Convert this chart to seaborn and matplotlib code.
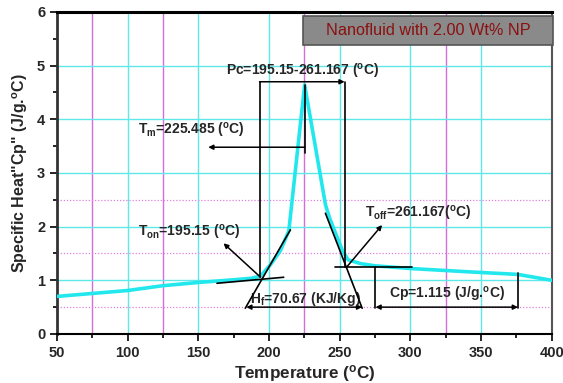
import matplotlib
matplotlib.use("Agg")
import matplotlib.pyplot as plt
import seaborn as sns
import pandas as pd
from matplotlib.patches import FancyBboxPatch

# ---- data ----
temperature = [50, 100, 125, 150, 175, 188, 194, 201, 208, 214, 225.2, 240, 243, 252, 256, 265, 275, 300, 340, 376, 400]
specific_heat = [0.70, 0.81, 0.90, 0.96, 1.01, 1.04, 1.08, 1.29, 1.55, 1.92, 4.64, 2.40, 2.15, 1.55, 1.38, 1.31, 1.27, 1.22, 1.16, 1.11, 1.00]

legend_text = "Nanofluid with 2.00 Wt% NP"
x_ticks = [50, 100, 150, 200, 250, 300, 350, 400]
y_ticks = [0, 1, 2, 3, 4, 5, 6]

# annotation geometry (data units)
pc_left, pc_right, pc_top = 193.3, 253.5, 4.70
onset_pt = (193.9, 1.06)
offset_pt = (254.7, 1.24)
peak_pt = (225.2, 4.64)
tm_arrow_y, tm_arrow_x_end, tm_line_bottom = 3.48, 157, 3.37
base_left = [(163.2, 0.945), (210.4, 1.057)]
lead_tangent = [(183.2, 0.48), (215.1, 1.94)]
trail_tangent = [(239.9, 2.25), (265.9, 0.48)]
base_right = [(247.0, 1.24), (301.3, 1.24)]
ton_arrow_tip = (167.8, 1.69)
toff_arrow_tip = (280.0, 2.03)
hf_y, hf_x0, hf_x1 = 0.50, 183.9, 265.9
cp_x0, cp_x1, cp_y, cp_top0, cp_top1 = 275.3, 376.1, 0.50, 1.24, 1.14

sns.set_style("white")
plt.rcParams['font.family'] = ['Liberation Sans', 'DejaVu Sans']
plt.rcParams['mathtext.fontset'] = 'custom'
plt.rcParams['mathtext.rm'] = 'Liberation Sans:bold'
plt.rcParams['mathtext.it'] = 'Liberation Sans:bold'
plt.rcParams['mathtext.bf'] = 'Liberation Sans:bold'
plt.rcParams['mathtext.default'] = 'rm'

fig = plt.figure(figsize=(5.63, 3.83), dpi=100)
ax = fig.add_axes([0.1012, 0.128, 0.8788, 0.8407])

# grid
for xv in [100, 150, 200, 250, 300, 350]:
    ax.axvline(xv, color='#5ee8e8', lw=1.0, zorder=0)
for xv in [75, 125, 225, 325]:
    ax.axvline(xv, color='#d070d8', lw=1.0, zorder=0)
for yv in [1, 2, 3, 4, 5]:
    ax.axhline(yv, color='#5ee8e8', lw=1.0, zorder=0)
for yv in [0.5, 1.5, 2.5]:
    ax.axhline(yv, color='#e080e0', lw=0.9, ls=(0, (1, 1.5)), zorder=0)

df = pd.DataFrame({"T": temperature, "Cp": specific_heat})
sns.lineplot(data=df, x="T", y="Cp", color='#22e8ee', lw=2.6, ax=ax, zorder=3)

k = dict(color='black', lw=1.2, zorder=4)
arr = dict(arrowstyle='-|>', color='black', lw=1.1, mutation_scale=7, shrinkA=0, shrinkB=0)
arr2 = dict(arrowstyle='<|-|>', color='black', lw=1.1, mutation_scale=7, shrinkA=0, shrinkB=0)
fs = 10

# Pc bracket
ax.plot([pc_left, pc_left], [pc_top, onset_pt[1]], **k)
ax.plot([pc_right, pc_right], [pc_top, offset_pt[1]], **k)
ax.annotate('', xy=(pc_right, pc_top), xytext=(pc_left, pc_top), arrowprops=arr, zorder=5)
ax.text(223.4, 4.9, "Pc=195.15-261.167 ($^{o}$C)", ha='center', va='center',
        fontsize=fs, fontweight='bold')

# Tm
ax.plot([peak_pt[0], peak_pt[0]], [peak_pt[1], tm_line_bottom], **k)
ax.annotate('', xy=(tm_arrow_x_end, tm_arrow_y), xytext=(peak_pt[0], tm_arrow_y), arrowprops=arr)
ax.text(107.4, 3.80, "T$_{m}$=225.485 ($^{o}$C)", ha='left', va='center', fontsize=fs, fontweight='bold')

# onset tangents
ax.plot(*zip(*base_left), **k)
ax.plot(*zip(*lead_tangent), **k)
ax.annotate('', xy=ton_arrow_tip, xytext=onset_pt, arrowprops=arr)
ax.text(107.6, 1.89, "T$_{on}$=195.15 ($^{o}$C)", ha='left', va='center', fontsize=fs, fontweight='bold')

# offset tangents
ax.plot(*zip(*trail_tangent), **k)
ax.plot(*zip(*base_right), **k)
ax.annotate('', xy=toff_arrow_tip, xytext=offset_pt, arrowprops=arr)
ax.text(268, 2.25, "T$_{off}$=261.167($^{o}$C)", ha='left', va='center', fontsize=fs, fontweight='bold')

# Hf
ax.annotate('', xy=(hf_x1, hf_y), xytext=(hf_x0, hf_y), arrowprops=arr2)
ax.text(225.5, 0.66, "H$_{f}$=70.67 (KJ/Kg)", ha='center', va='center', fontsize=fs, fontweight='bold')

# Cp bracket
ax.plot([cp_x0, cp_x0], [cp_top0, cp_y - 0.02], **k)
ax.plot([cp_x1, cp_x1], [cp_top1, cp_y - 0.02], **k)
ax.annotate('', xy=(cp_x1, cp_y), xytext=(cp_x0, cp_y), arrowprops=arr2)
ax.text((cp_x0 + cp_x1) / 2, 0.73, "Cp=1.115 (J/g.$^{o}$C)", ha='center', va='center', fontsize=fs, fontweight='bold')

# legend-like box
box = FancyBboxPatch((0.497, 0.899), 0.506, 0.088, boxstyle='square,pad=0', transform=ax.transAxes,
                     facecolor='#8a8a8a', edgecolor='#555555', lw=1.2, zorder=6, clip_on=False)
ax.add_patch(box)
ax.text(0.75, 0.943, legend_text, transform=ax.transAxes, ha='center', va='center', fontsize=11.7,
        color='#8b1010', zorder=7)

ax.set_xlim(50, 400)
ax.set_ylim(0, 6)
ax.set_xticks(x_ticks)
ax.set_yticks(y_ticks)
ax.set_xticks([75, 125, 175, 225, 275, 325, 375], minor=True)
ax.set_yticks([0.5, 1.5, 2.5, 3.5, 4.5, 5.5], minor=True)
ax.tick_params(which='both', direction='out', color='black', width=1.2)
ax.tick_params(which='major', length=5, labelsize=10.5)
ax.tick_params(which='minor', length=3)
ax.tick_params(axis='both', which='both', bottom=True, left=True, top=False, right=False)
for lab in ax.get_xticklabels() + ax.get_yticklabels():
    lab.set_fontweight('bold')

ax.spines['top'].set_linewidth(2.2)
ax.spines['top'].set_color('black')
ax.spines['left'].set_linewidth(2.0)
ax.spines['left'].set_color('#333333')
ax.spines['bottom'].set_linewidth(1.5)
ax.spines['bottom'].set_color('black')
ax.spines['right'].set_linewidth(1.5)
ax.spines['right'].set_color('#555555')

ax.set_xlabel("Temperature ($^{o}$C)", fontsize=12.3, fontweight='bold', labelpad=2)
ax.set_ylabel('Specific Heat"Cp" (J/g.$^{o}$C)', fontsize=11.5, fontweight='bold', labelpad=5)

fig.savefig("out.png", dpi=100)
